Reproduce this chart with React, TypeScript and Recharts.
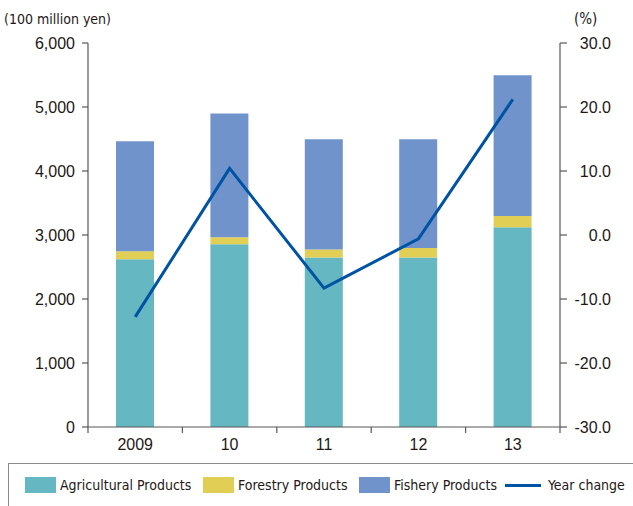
import { Bar, ComposedChart, Legend, Line, XAxis, YAxis } from 'recharts';

const years = ['2009', '10', '11', '12', '13'];
const agricultural = [2620, 2855, 2650, 2650, 3120];
const forestry = [125, 110, 125, 145, 175];
const fishery = [1720, 1935, 1720, 1700, 2200];
const yearChange = [-12.8, 10.4, -8.3, -0.6, 21.2];

const leftTicks = [0, 1000, 2000, 3000, 4000, 5000, 6000];
const rightTicks = [-30, -20, -10, 0, 10, 20, 30];

const data = years.map((year, i) => ({
    year,
    agricultural: agricultural[i],
    forestry: forestry[i],
    fishery: fishery[i],
    change: yearChange[i],
}));

const W = 633;
const H = 506;
const LEFT_W = 88;
const RIGHT_W = 73;
const axisColor = "#595757";
const textColor = "#231815";
const tickFont = "'Liberation Sans', Arial, sans-serif";
const narrowFont = "'DejaVu Sans', sans-serif";

// legend swatch left edges, in page pixels
const legendItems = [
    { name: "Agricultural Products", color: "#65b7c2", type: "box", left: 25 },
    { name: "Forestry Products", color: "#e1cf55", type: "box", left: 203 },
    { name: "Fishery Products", color: "#7093cc", type: "box", left: 359 },
    { name: "Year change", color: "#0052a2", type: "line", left: 505 },
];

const band = (W - LEFT_W - RIGHT_W) / years.length;

function XTick({ x, y, payload, index }: any) {
    return (
        <g>
            <line x1={x - band / 2} x2={x - band / 2} y1={y} y2={y + 6} stroke={axisColor} strokeWidth={1.2} />
            {index === years.length - 1 && (
                <line x1={x + band / 2} x2={x + band / 2} y1={y} y2={y + 6} stroke={axisColor} strokeWidth={1.2} />
            )}
            <text x={x} y={y + 12} dy="0.71em" textAnchor="middle" fontSize={16} fontFamily={tickFont} fill={textColor}>
                {payload.value}
            </text>
        </g>
    );
}

function RightTick({ x, y, payload }: any) {
    return (
        <text x={x + 44} y={y} dy="0.355em" textAnchor="end" fontSize={16} fontFamily={tickFont} fill={textColor}>
            {payload.value.toFixed(1)}
        </text>
    );
}

export default function App() {
    return (
        <div style={{ position: "absolute", left: 0, top: 0 }}>
            <ComposedChart width={W} height={H} data={data} margin={{ top: 43, right: 0, left: 0, bottom: 0 }}>
                <XAxis
                    dataKey="year"
                    height={36}
                    stroke={axisColor}
                    strokeWidth={1.2}
                    tickLine={false}
                    tickSize={0}
                    tickMargin={0}
                    tick={<XTick />}
                    interval={0}
                />
                <YAxis
                    yAxisId="left"
                    width={LEFT_W}
                    domain={[0, 6000]}
                    ticks={leftTicks}
                    tickFormatter={(v: number) => v.toLocaleString('en-US')}
                    stroke={axisColor}
                    strokeWidth={1.2}
                    tickSize={6}
                    tickMargin={7}
                    tick={{ fontSize: 16, fontFamily: tickFont, fill: textColor }}
                    label={{
                        content: () => (
                            <text x={4} y={24} fontSize={14} fontFamily={narrowFont} fontStretch="condensed" fill={textColor}>
                                (100 million yen)
                            </text>
                        ),
                    }}
                />
                <YAxis
                    yAxisId="right"
                    orientation="right"
                    width={RIGHT_W}
                    domain={[-30, 30]}
                    ticks={rightTicks}
                    stroke={axisColor}
                    strokeWidth={1.2}
                    tickSize={7}
                    tickMargin={0}
                    tick={<RightTick />}
                    label={{
                        content: () => (
                            <text x={574} y={24} fontSize={15} fontFamily={narrowFont} fontStretch="condensed" fill={textColor}>
                                (%)
                            </text>
                        ),
                    }}
                />
                <Bar yAxisId="left" dataKey="agricultural" stackId="a" fill="#65b7c2" barSize={38} isAnimationActive={false} />
                <Bar yAxisId="left" dataKey="forestry" stackId="a" fill="#e1cf55" barSize={38} isAnimationActive={false} />
                <Bar yAxisId="left" dataKey="fishery" stackId="a" fill="#7093cc" barSize={38} isAnimationActive={false} />
                <Line
                    yAxisId="right"
                    dataKey="change"
                    stroke="#0052a2"
                    strokeWidth={3}
                    dot={false}
                    activeDot={false}
                    isAnimationActive={false}
                />
                <Legend
                    verticalAlign="bottom"
                    height={43}
                    wrapperStyle={{ left: 0, top: 463, bottom: "auto", width: W, height: 43 }}
                    content={() => (
                        <div style={{ position: "relative", width: W, height: 43 }}>
                            <div style={{
                                position: "absolute",
                                left: 8,
                                top: 0,
                                width: W - 8,
                                height: 43,
                                borderTop: "1px solid #8a8a8a",
                                borderLeft: "1px solid #8a8a8a",
                                boxSizing: "border-box",
                            }} />
                            {legendItems.map((item) => (
                                <div key={item.name} style={{
                                    position: "absolute",
                                    left: item.left,
                                    top: 14,
                                    height: 16,
                                    display: "flex",
                                    alignItems: "center",
                                    gap: 4,
                                }}>
                                    {item.type === "box" ? (
                                        <div style={{ width: 31, height: 16, backgroundColor: item.color }} />
                                    ) : (
                                        <div style={{ width: 36, height: 3, backgroundColor: item.color, marginRight: 3 }} />
                                    )}
                                    <span style={{ fontSize: 14, fontFamily: narrowFont, fontStretch: "condensed", color: textColor, whiteSpace: "nowrap" }}>
                                        {item.name}
                                    </span>
                                </div>
                            ))}
                        </div>
                    )}
                />
            </ComposedChart>
        </div>
    );
}
